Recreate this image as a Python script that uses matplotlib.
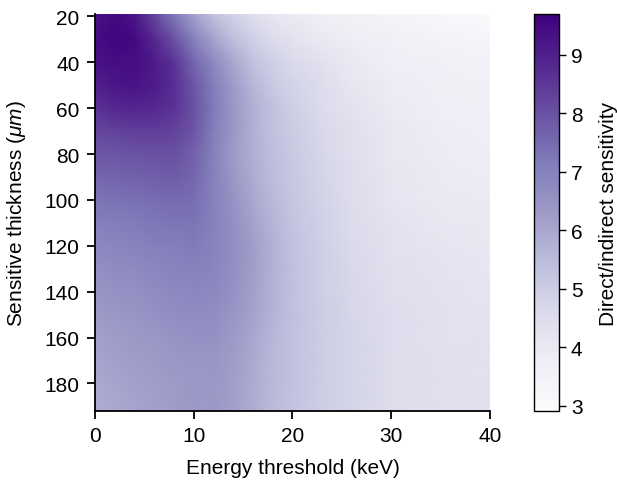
#!/usr/bin/env python3
"""direct/indirect sensitivity map vs energy threshold and thickness"""
import numpy as np
import matplotlib
matplotlib.use("Agg")
import matplotlib.pyplot as plt

plt.rcParams['font.family'] = ['Liberation Sans', 'DejaVu Sans']
plt.rcParams['mathtext.fontset'] = 'custom'
plt.rcParams['mathtext.it'] = 'Liberation Sans:italic'
plt.rcParams['mathtext.rm'] = 'Liberation Sans'

# energy threshold (keV) sample points
energy = [0, 2, 4, 6, 8, 10, 12, 14, 16, 18, 20, 23, 26, 30, 35, 40]
# sensitive thickness (um) sample points
thickness = [19, 30, 40, 50, 60, 70, 80, 90, 100, 110, 120, 130, 140,
             150, 160, 170, 180, 192]

# one row per thickness
ratio = [
    [9.3, 9.5, 9.2, 8.2, 7.2, 6.1, 5.3, 4.8, 4.4, 4.1, 3.9, 3.65, 3.5, 3.35, 3.2, 3.1],
    [9.4, 9.6, 9.5, 8.8, 8.0, 7.0, 6.1, 5.4, 4.9, 4.5, 4.25, 3.95, 3.75, 3.55, 3.4, 3.3],
    [9.3, 9.4, 9.4, 9.1, 8.6, 7.6, 6.8, 6.0, 5.3, 4.9, 4.6, 4.3, 3.95, 3.7, 3.55, 3.45],
    [9.0, 9.2, 9.3, 9.1, 8.7, 7.9, 7.1, 6.3, 5.6, 5.1, 4.8, 4.45, 4.1, 3.85, 3.65, 3.55],
    [8.6, 8.8, 8.9, 8.8, 8.6, 8.0, 7.2, 6.4, 5.8, 5.3, 4.95, 4.55, 4.25, 3.9, 3.7, 3.6],
    [8.2, 8.3, 8.4, 8.4, 8.3, 7.9, 7.1, 6.4, 5.8, 5.35, 5.05, 4.65, 4.35, 4.0, 3.8, 3.7],
    [7.9, 7.9, 7.95, 8.0, 8.05, 7.7, 7.0, 6.3, 5.8, 5.4, 5.1, 4.7, 4.4, 4.05, 3.85, 3.75],
    [7.6, 7.65, 7.7, 7.75, 7.8, 7.6, 7.0, 6.4, 5.9, 5.45, 5.15, 4.75, 4.45, 4.1, 3.9, 3.8],
    [7.3, 7.35, 7.4, 7.45, 7.5, 7.45, 7.0, 6.5, 6.0, 5.55, 5.2, 4.8, 4.5, 4.15, 3.95, 3.9],
    [7.05, 7.1, 7.15, 7.25, 7.3, 7.3, 7.0, 6.6, 6.1, 5.65, 5.25, 4.85, 4.55, 4.25, 4.05, 3.95],
    [6.8, 6.9, 6.95, 7.05, 7.1, 7.15, 6.95, 6.65, 6.2, 5.75, 5.3, 4.9, 4.6, 4.3, 4.15, 4.05],
    [6.6, 6.7, 6.75, 6.85, 6.95, 7.0, 6.9, 6.6, 6.2, 5.75, 5.35, 4.95, 4.65, 4.35, 4.2, 4.1],
    [6.45, 6.55, 6.6, 6.7, 6.8, 6.85, 6.8, 6.55, 6.15, 5.7, 5.35, 4.95, 4.7, 4.4, 4.25, 4.15],
    [6.3, 6.4, 6.45, 6.55, 6.65, 6.7, 6.65, 6.45, 6.1, 5.7, 5.35, 5.0, 4.7, 4.45, 4.3, 4.2],
    [6.15, 6.25, 6.35, 6.4, 6.5, 6.55, 6.55, 6.35, 6.0, 5.6, 5.3, 5.0, 4.75, 4.45, 4.3, 4.25],
    [6.05, 6.15, 6.25, 6.3, 6.4, 6.45, 6.45, 6.25, 5.95, 5.55, 5.3, 5.0, 4.75, 4.5, 4.35, 4.25],
    [5.95, 6.05, 6.15, 6.2, 6.3, 6.4, 6.4, 6.2, 5.9, 5.55, 5.3, 5.0, 4.75, 4.5, 4.35, 4.3],
    [5.85, 5.95, 6.05, 6.15, 6.25, 6.35, 6.35, 6.15, 5.85, 5.5, 5.25, 4.95, 4.75, 4.5, 4.35, 4.3],
]

x_ticks = [0, 10, 20, 30, 40]
y_ticks = [20, 40, 60, 80, 100, 120, 140, 160, 180]
cbar_ticks = [3, 4, 5, 6, 7, 8, 9]

fig = plt.figure(figsize=(6.17, 4.85), dpi=100)
ax = fig.add_axes([0.154, 0.1505, 0.640, 0.8185])
cax = fig.add_axes([0.8655, 0.1505, 0.0405, 0.8185])

Z = np.array(ratio)
mesh = ax.pcolormesh(energy, thickness, Z, shading='gouraud',
                     cmap='Purples', vmin=2.91, vmax=9.70,
                     rasterized=True)
ax.set_xlim(0, 40)
ax.set_ylim(192, 19)
ax.set_xticks(x_ticks)
ax.set_yticks(y_ticks)
for side in ['top', 'right']:
    ax.spines[side].set_visible(False)
for side in ['left', 'bottom']:
    ax.spines[side].set_linewidth(1.3)
ax.tick_params(direction='out', length=6, width=1.3, labelsize=15, pad=5)
ax.set_xlabel('Energy threshold (keV)', fontsize=15, labelpad=9)
ax.set_ylabel(r'Sensitive thickness ($\mu m$)', fontsize=15, labelpad=12)

cb = fig.colorbar(mesh, cax=cax, ticks=cbar_ticks)
cb.outline.set_linewidth(1.0)
cb.ax.tick_params(direction='out', length=5, width=1.0, labelsize=15)
cb.set_label('Direct/indirect sensitivity', fontsize=15, labelpad=12)

fig.savefig('out.png', dpi=100)
